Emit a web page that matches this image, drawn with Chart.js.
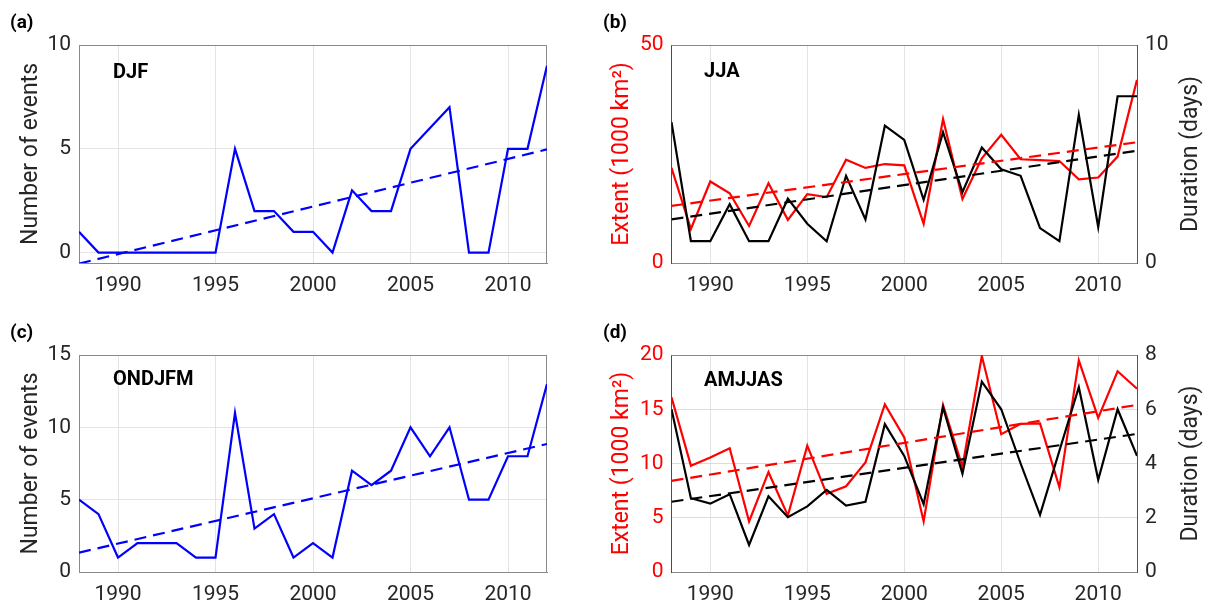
<!DOCTYPE html>
<html>
<head>
<meta charset="utf-8">
<script src="https://cdn.jsdelivr.net/npm/chart.js@4.4.1/dist/chart.umd.min.js"></script>
<style>
  body { margin: 0; background: #fff; width: 1210px; height: 610px; position: relative; overflow: hidden; }
  .panel { position: absolute; }
  .lbl { position: absolute; font-family: Roboto, sans-serif; font-weight: bold; color: #000; white-space: nowrap; }
  .tag { font-size: 19px; line-height: 19px; }
  .season { font-size: 20px; line-height: 20px; }
</style>
</head>
<body>
<div class="panel" style="left:0;top:0"><canvas id="chartA" width="600" height="300"></canvas></div>
<div class="panel" style="left:600px;top:0"><canvas id="chartB" width="610" height="300"></canvas></div>
<div class="panel" style="left:0;top:300px"><canvas id="chartC" width="600" height="310"></canvas></div>
<div class="panel" style="left:600px;top:300px"><canvas id="chartD" width="610" height="310"></canvas></div>

<div class="lbl tag" style="left:10px;top:12px">(a)</div>
<div class="lbl tag" style="left:603px;top:12px">(b)</div>
<div class="lbl tag" style="left:10px;top:322px">(c)</div>
<div class="lbl tag" style="left:603px;top:322px">(d)</div>
<div class="lbl season" style="left:113px;top:61px">DJF</div>
<div class="lbl season" style="left:704px;top:60px">JJA</div>
<div class="lbl season" style="left:113px;top:368px">ONDJFM</div>
<div class="lbl season" style="left:704px;top:369px">AMJJAS</div>

<script>
// years and tick labels
const years = [1988, 1989, 1990, 1991, 1992, 1993, 1994, 1995, 1996, 1997, 1998, 1999, 2000,
               2001, 2002, 2003, 2004, 2005, 2006, 2007, 2008, 2009, 2010, 2011, 2012];
const xTicks = [1990, 1995, 2000, 2005, 2010];

// (a) DJF number of events
const djfEvents = [1, 0, 0, 0, 0, 0, 0, 0, 5, 2, 2, 1, 1, 0, 3, 2, 2, 5, 6, 7, 0, 0, 5, 5, 9];
const djfTrend = [-0.53, 4.97];
const djfTicks = [0, 5, 10];

// (c) ONDJFM number of events
const ondjfmEvents = [5, 4, 1, 2, 2, 2, 1, 1, 11, 3, 4, 1, 2, 1, 7, 6, 7, 10, 8, 10, 5, 5, 8, 8, 13];
const ondjfmTrend = [1.34, 8.85];
const ondjfmTicks = [0, 5, 10, 15];

// (b) JJA extent (1000 km2) and duration (days)
const jjaExtent = [21.8, 7.8, 18.7, 16.0, 8.5, 18.3, 9.9, 15.8, 15.1, 23.7, 21.8, 22.7, 22.4,
                   9.0, 33.0, 14.7, 24.0, 29.4, 23.8, 23.6, 23.4, 19.2, 19.6, 24.4, 42.0];
const jjaDuration = [6.46, 1.0, 1.0, 2.7, 1.0, 1.0, 2.95, 1.8, 1.0, 4.0, 2.0, 6.3, 5.65,
                     2.9, 6.0, 3.25, 5.3, 4.3, 4.0, 1.6, 1.0, 6.8, 1.65, 7.65, 7.65];
const jjaExtentTrend = [13.1, 27.7];
const jjaDurationTrend = [2.0, 5.15];
const jjaExtentTicks = [0, 50];
const jjaDurationTicks = [0, 10];

// (d) AMJJAS extent and duration
const amjjasExtent = [16.1, 9.8, 10.55, 11.4, 4.66, 9.2, 5.2, 11.65, 7.2, 7.9, 10.1, 15.45, 12.4,
                      4.66, 15.4, 9.7, 19.9, 12.7, 13.65, 13.7, 7.8, 19.5, 14.2, 18.5, 16.9];
const amjjasDuration = [6.0, 2.72, 2.52, 2.87, 1.0, 2.79, 2.02, 2.42, 3.03, 2.45, 2.59, 5.45, 4.28,
                        2.5, 6.07, 3.62, 7.02, 6.0, 4.0, 2.11, 4.47, 6.81, 3.4, 6.0, 4.28];
const amjjasExtentTrend = [8.4, 15.4];
const amjjasDurationTrend = [2.59, 5.09];
const amjjasExtentTicks = [0, 5, 10, 15, 20];
const amjjasDurationTicks = [0, 2, 4, 6, 8];

Chart.defaults.font.family = 'Roboto, sans-serif';
Chart.defaults.animation = false;

const tickColor = '#262626';
const spineColor = '#8a8a8a';
const gridColor = '#e4e4e4';
const BLUE = '#0000ff', RED = '#ff0000', BLACK = '#000000';

function pts(vals) {
    return years.map((yr, i) => ({ x: yr, y: vals[i] }));
}
function trendPts(ends) {
    return [{ x: years[0], y: ends[0] }, { x: years[years.length - 1], y: ends[1] }];
}
function solid(vals, color) {
    return { data: pts(vals), borderColor: color, borderWidth: 2.2, pointRadius: 0, tension: 0, fill: false };
}
function dashed(ends, color, axis) {
    return { data: trendPts(ends), borderColor: color, borderWidth: 2.2, borderDash: [12, 7],
             pointRadius: 0, fill: false, yAxisID: axis || 'y' };
}

// top spine, right spine for single-axis panels, and the right axis title
// (the right title reads bottom-to-top like the left one)
const boxPlugin = {
    id: 'box',
    beforeDatasetsDraw(chart, args, opts) {
        const a = chart.chartArea, ctx = chart.ctx;
        ctx.save();
        ctx.strokeStyle = spineColor;
        ctx.lineWidth = 1;
        ctx.beginPath();
        ctx.moveTo(a.left, a.top + 0.5);
        ctx.lineTo(a.right, a.top + 0.5);
        if (opts.right) {
            ctx.moveTo(a.right - 0.5, a.top);
            ctx.lineTo(a.right - 0.5, a.bottom);
        }
        ctx.stroke();
        ctx.restore();
    },
    afterDraw(chart, args, opts) {
        if (!opts.rightTitle) return;
        const s = chart.scales.y1, a = chart.chartArea, ctx = chart.ctx;
        ctx.save();
        ctx.translate(s.right - 17.8, (a.top + a.bottom) / 2);
        ctx.rotate(-Math.PI / 2);
        ctx.font = '23px Roboto, sans-serif';
        ctx.fillStyle = tickColor;
        ctx.textAlign = 'center';
        ctx.textBaseline = 'middle';
        ctx.fillText(opts.rightTitle, 0, 0);
        ctx.restore();
    }
};

function xScale(h) {
    return {
        type: 'linear', min: 1988, max: 2012,
        afterBuildTicks: s => { s.ticks = xTicks.map(v => ({ value: v })); },
        afterFit: s => { s.height = h; },
        grid: { color: gridColor, drawTicks: false },
        border: { color: spineColor },
        ticks: { color: tickColor, font: { size: 21 }, padding: 10, callback: v => String(v) }
    };
}

function yScale(o) {
    return {
        type: 'linear', position: o.position, min: o.min, max: o.max,
        afterBuildTicks: s => { s.ticks = o.ticks.map(v => ({ value: v })); },
        afterFit: s => { s.width = o.width; },
        grid: { color: o.grid || gridColor, drawTicks: false, drawOnChartArea: o.position === 'left' },
        border: { color: o.border || spineColor },
        ticks: { color: o.color, font: { size: 21 }, padding: 8 },
        title: { display: !!o.title, text: o.title || '', color: o.color, font: { size: 23 } }
    };
}

function baseOptions(pad, scales, box) {
    return {
        responsive: false,
        animation: false,
        layout: { padding: pad },
        scales: scales,
        plugins: { legend: { display: false }, tooltip: { enabled: false }, box: box }
    };
}

// (a)
new Chart(document.getElementById('chartA'), {
    type: 'line',
    data: { datasets: [dashed(djfTrend, BLUE), solid(djfEvents, BLUE)] },
    options: baseOptions({ top: 45, right: 53, left: 13, bottom: 0 }, {
        x: xScale(37),
        y: yScale({ position: 'left', min: -0.5, max: 10, ticks: djfTicks, width: 66,
                    color: tickColor, title: 'Number of events' })
    }, { right: true }),
    plugins: [boxPlugin]
});

// (c)
new Chart(document.getElementById('chartC'), {
    type: 'line',
    data: { datasets: [dashed(ondjfmTrend, BLUE), solid(ondjfmEvents, BLUE)] },
    options: baseOptions({ top: 55, right: 53, left: 13, bottom: 0 }, {
        x: xScale(38),
        y: yScale({ position: 'left', min: 0, max: 15, ticks: ondjfmTicks, width: 66,
                    color: tickColor, title: 'Number of events' })
    }, { right: true }),
    plugins: [boxPlugin]
});

// (b)
new Chart(document.getElementById('chartB'), {
    type: 'line',
    data: { datasets: [
        dashed(jjaDurationTrend, BLACK, 'y1'),
        dashed(jjaExtentTrend, RED, 'y'),
        Object.assign(solid(jjaDuration, BLACK), { yAxisID: 'y1' }),
        Object.assign(solid(jjaExtent, RED), { yAxisID: 'y' })
    ] },
    options: baseOptions({ top: 45, right: 1, left: 4, bottom: 0 }, {
        x: xScale(37),
        y: yScale({ position: 'left', min: 0, max: 50, ticks: jjaExtentTicks, width: 67.5,
                    color: RED, border: RED, grid: '#ead6d8', title: 'Extent (1000 km²)' }),
        y1: yScale({ position: 'right', min: 0, max: 10, ticks: jjaDurationTicks, width: 72,
                     color: tickColor, border: '#555555' })
    }, { right: false, rightTitle: 'Duration (days)' }),
    plugins: [boxPlugin]
});

// (d)
new Chart(document.getElementById('chartD'), {
    type: 'line',
    data: { datasets: [
        dashed(amjjasDurationTrend, BLACK, 'y1'),
        dashed(amjjasExtentTrend, RED, 'y'),
        Object.assign(solid(amjjasDuration, BLACK), { yAxisID: 'y1' }),
        Object.assign(solid(amjjasExtent, RED), { yAxisID: 'y' })
    ] },
    options: baseOptions({ top: 55, right: 1, left: 4, bottom: 0 }, {
        x: xScale(38),
        y: yScale({ position: 'left', min: 0, max: 20, ticks: amjjasExtentTicks, width: 67.5,
                    color: RED, border: RED, grid: '#ead6d8', title: 'Extent (1000 km²)' }),
        y1: yScale({ position: 'right', min: 0, max: 8, ticks: amjjasDurationTicks, width: 72,
                     color: tickColor, border: '#555555' })
    }, { right: false, rightTitle: 'Duration (days)' }),
    plugins: [boxPlugin]
});
</script>
</body>
</html>
